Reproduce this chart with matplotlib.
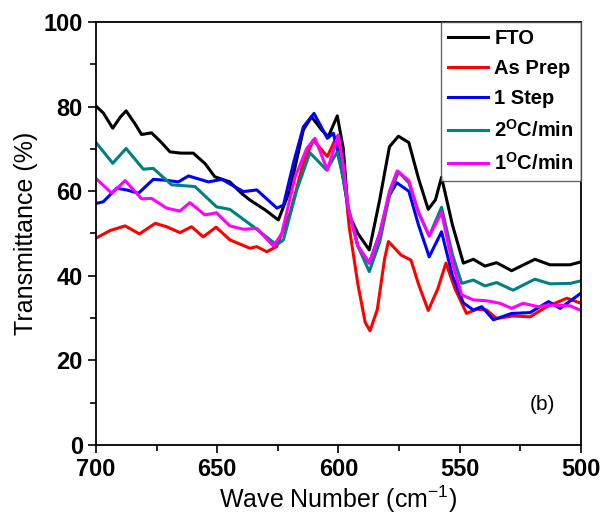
import numpy as np
import matplotlib
matplotlib.use('Agg')
import matplotlib.pyplot as plt

# data (wave number, transmittance %)
fto_x = [700, 697, 693.1, 690, 687.6, 684, 681.2, 677.1, 673, 669.5, 665, 659.9, 655, 651.0, 644.8, 640, 636.5,
         630.3, 624.8, 620, 614.5, 611.1, 607, 604.2, 600.5, 598, 596.0, 592, 587.3, 583, 579, 575.3, 571,
         567, 563.0, 560, 557.5, 553, 548.5, 544.4, 539.6, 534.8, 528.6, 524, 519.0, 512.8, 504.5, 500]
fto_y = [80.1, 78.5, 74.9, 77.5, 79.0, 76.0, 73.4, 73.8, 71.5, 69.3, 69.0, 69.0, 66.5, 63.4, 62.2, 59.5, 57.9,
         55.6, 53.2, 60.3, 74.5, 77.6, 74.5, 72.9, 77.8, 70.0, 54.8, 50.0, 46.1, 58.0, 70.5, 73.0, 71.5,
         63.0, 55.7, 58.0, 63.3, 52.0, 43.0, 43.9, 42.3, 43.1, 41.2, 42.5, 43.9, 42.6, 42.6, 43.3]

asprep_x = [700, 694.2, 688, 682.1, 675.6, 670.9, 665.4, 660.6, 655.8, 650.5, 644.8, 636.5, 633.7, 629.6,
            625.5, 620, 614.5, 610.4, 604.6, 600.8, 598, 595.6, 592, 589, 587, 584, 581, 579.4, 574.2, 570.1,
            567, 563.0, 559, 555.7, 552, 547.2, 543.0, 538.9, 534.8, 528.0, 521.0, 514.1, 505.8, 500]
asprep_y = [48.9, 50.7, 51.8, 49.9, 52.4, 51.6, 50.2, 51.6, 49.2, 51.5, 48.5, 46.5, 46.9, 45.7,
            46.9, 54.8, 66.6, 72.1, 68.2, 72.9, 66.0, 51.6, 38.0, 29.0, 27.0, 32.0, 44.0, 48.1, 44.9, 43.7,
            38.0, 31.8, 37.0, 43.0, 37.0, 31.1, 32.1, 31.9, 29.9, 30.5, 30.3, 32.7, 34.7, 33.5]

step1_x = [700, 697, 691.5, 687.4, 682.5, 676.4, 671.5, 666.0, 661.9, 653.6, 648.1, 639.2, 633.7, 625.4,
           622.7, 618.6, 614.5, 610.1, 604.6, 602.1, 599, 596, 592, 587.3, 583, 579, 576.0, 571, 567, 562.6,
           557.5, 553, 548.5, 544.4, 540.9, 536.1, 528.6, 521.0, 513.4, 508.6, 500]
step1_y = [57.1, 57.5, 60.7, 60.3, 59.5, 62.8, 62.6, 62.2, 63.6, 62.2, 62.8, 59.9, 60.3, 56.0,
           56.7, 66.6, 75.2, 78.4, 72.5, 73.7, 66.0, 56.0, 47.0, 43.0, 50.0, 59.0, 62.0, 60.0, 52.0, 44.5,
           50.4, 40.0, 33.6, 31.9, 32.7, 29.6, 31.1, 31.3, 33.9, 32.3, 35.9]

c2_x = [700, 693.1, 687.6, 680.5, 676.4, 668.8, 659.2, 650.3, 644.8, 635.1, 625.5, 622.7, 617.2, 611.8,
        604.9, 600.5, 598, 596, 592, 587.3, 583, 579, 575.3, 571, 567, 562.6, 557.5, 553, 549.2, 544.4,
        539.6, 534.8, 528.0, 519.0, 512.8, 504.5, 500]
c2_y = [71.5, 66.6, 70.1, 65.2, 65.4, 61.5, 61.1, 56.3, 55.7, 51.6, 47.3, 48.5, 60.3, 69.1,
        65.0, 69.3, 63.0, 56.3, 47.0, 41.0, 48.0, 59.0, 64.6, 62.0, 55.0, 49.4, 56.2, 45.0, 38.2, 39.0,
        37.6, 38.4, 36.6, 39.2, 38.1, 38.2, 38.8]

c1_x = [700, 693.5, 688, 681.2, 677.1, 670.9, 665.4, 661.3, 655.1, 650.3, 644.8, 639.2, 633.7, 626.8,
        623.4, 617.9, 613.1, 609.7, 604.6, 600.1, 598, 596, 592, 587.3, 583, 579, 575.8, 571, 567, 562.6,
        557.5, 553, 549.2, 544.4, 539, 533.4, 528.6, 523.9, 517.7, 512.8, 504.5, 500]
c1_y = [63.0, 59.5, 62.5, 58.2, 58.3, 56.0, 55.3, 57.3, 54.4, 54.9, 51.8, 51.0, 51.2, 47.0,
        50.0, 63.4, 70.1, 72.5, 65.0, 73.3, 66.0, 56.0, 47.0, 43.0, 50.0, 60.0, 64.8, 62.5, 55.0, 49.4,
        54.9, 43.0, 35.5, 34.3, 34.1, 33.5, 32.3, 33.5, 32.7, 33.1, 32.9, 31.8]

series = [
    ('FTO', fto_x, fto_y, 'black'),
    ('As Prep', asprep_x, asprep_y, '#ff0000'),
    ('1 Step', step1_x, step1_y, '#0000ff'),
    (r'2$^{\mathbf{O}}$C/min', c2_x, c2_y, '#008080'),
    (r'1$^{\mathbf{O}}$C/min', c1_x, c1_y, '#ff00ff'),
]

plt.rcParams['font.family'] = ['Liberation Sans', 'DejaVu Sans']
plt.rcParams['mathtext.fontset'] = 'custom'
plt.rcParams['mathtext.bf'] = 'Liberation Sans:bold'
plt.rcParams['mathtext.rm'] = 'Liberation Sans'

fig = plt.figure(figsize=(6.05, 5.25), dpi=100)
ax = fig.add_axes([0.1587, 0.1524, 0.8016, 0.8057])

for label, x, y, c in series:
    ax.plot(x, y, color=c, lw=2.2, label=label)

ax.set_xlim(700, 500)
ax.set_ylim(0, 100)
ax.set_xticks([700, 650, 600, 550, 500])
ax.set_xticks([675, 625, 575, 525], minor=True)
ax.set_yticks([0, 20, 40, 60, 80, 100])
ax.set_yticks([10, 30, 50, 70, 90], minor=True)
ax.tick_params(which='major', direction='out', length=6, width=1.2, labelsize=17)
ax.tick_params(which='minor', direction='out', length=4, width=1.2)
for lab in ax.get_xticklabels() + ax.get_yticklabels():
    lab.set_fontweight('bold')
for s in ax.spines.values():
    s.set_linewidth(1.3)

ax.set_xlabel('Wave Number (cm$^{-1}$)', fontsize=18, labelpad=2)
ax.set_ylabel('Transmittance (%)', fontsize=18, labelpad=4)
ax.text(515.7, 9.5, '(b)', fontsize=15, ha='center', va='center')

leg = ax.legend(loc='upper right', prop={'weight': 'bold', 'size': 14.5},
                frameon=True, fancybox=False, borderaxespad=0, handlelength=2.0,
                handletextpad=0.3, labelspacing=0.55, borderpad=0.35)
leg.get_frame().set_edgecolor('#444444')
leg.get_frame().set_linewidth(1.0)
for h in leg.get_lines():
    h.set_linewidth(2.2)

fig.savefig('out.png', dpi=100)
